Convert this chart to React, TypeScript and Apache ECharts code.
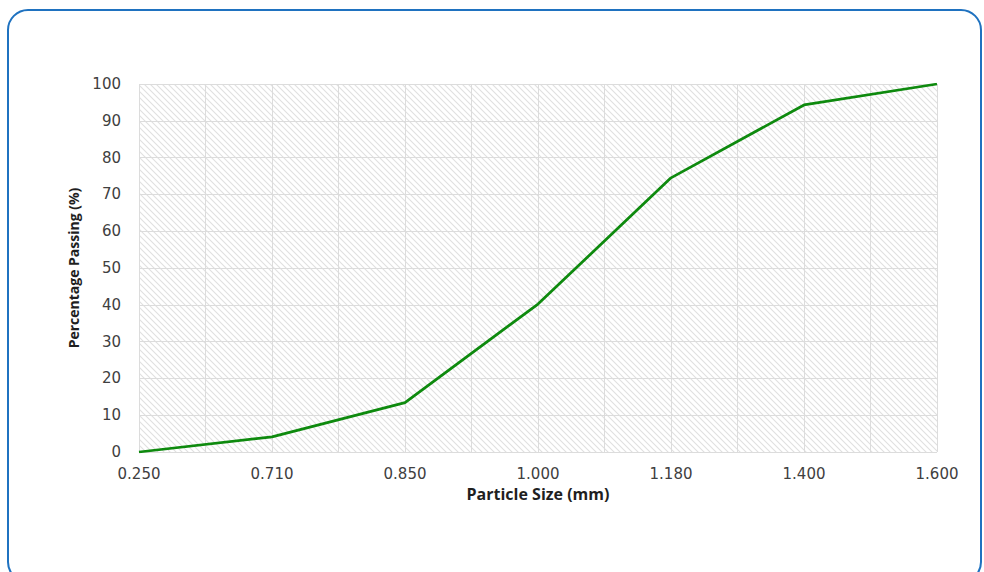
import React, { useEffect, useRef } from "react";
import * as echarts from "echarts";

const categories = ["0.250", "0.710", "0.850", "1.000", "1.180", "1.400", "1.600"];
const passing = [0, 4.1, 13.4, 40.2, 74.5, 94.3, 100];
const yTicks = { min: 0, max: 100, interval: 10 };

function makeHatch(): HTMLCanvasElement {
  const c = document.createElement("canvas");
  c.width = 6;
  c.height = 6;
  const ctx = c.getContext("2d")!;
  ctx.fillStyle = "#ffffff";
  ctx.fillRect(0, 0, 6, 6);
  ctx.strokeStyle = "#e0e0e0";
  ctx.lineWidth = 1.1;
  ctx.beginPath();
  ctx.moveTo(-1, -1);
  ctx.lineTo(7, 7);
  ctx.moveTo(-1, 5);
  ctx.lineTo(1, 7);
  ctx.moveTo(5, -1);
  ctx.lineTo(7, 1);
  ctx.stroke();
  return c;
}

export default function App() {
  const ref = useRef<HTMLDivElement>(null);
  useEffect(() => {
    document.body.style.margin = "0";
    const chart = echarts.init(ref.current!, undefined, { renderer: "svg" });
    const hatch = makeHatch();
    const font = "DejaVu Sans";
    const titleFont = "Open Sans";
    chart.setOption({
      animation: false,
      backgroundColor: "#ffffff",
      graphic: [
        {
          type: "rect",
          shape: { x: 8, y: 10, width: 973, height: 572, r: 20 },
          style: { fill: "none", stroke: "#1f72c0", lineWidth: 2 },
          z: 100,
        },
      ],
      grid: {
        left: 139,
        right: 47,
        top: 84,
        bottom: 120,
        show: true,
        borderWidth: 0,
        backgroundColor: { image: hatch, repeat: "repeat" },
      },
      xAxis: [
        {
          type: "category",
          data: categories,
          boundaryGap: false,
          axisLine: { show: false },
          axisTick: { show: false },
          splitLine: { show: false },
          axisLabel: { color: "#404040", fontFamily: font, fontSize: 15, margin: 14 },
          name: "Particle Size (mm)",
          nameLocation: "middle",
          nameGap: 32,
          nameTextStyle: { fontFamily: titleFont, fontWeight: "bold", fontSize: 16, color: "#1f1f1f" },
        },
        {
          type: "value",
          min: 0,
          max: (categories.length - 1) * 2,
          interval: 1,
          position: "bottom",
          axisLine: { show: false },
          axisTick: { show: false },
          axisLabel: { show: false },
          splitLine: { show: true, lineStyle: { color: "#dcdcdc", width: 1 } },
        },
      ],
      yAxis: {
        type: "value",
        min: yTicks.min,
        max: yTicks.max,
        interval: yTicks.interval,
        axisLine: { show: false },
        axisTick: { show: false },
        axisLabel: { color: "#404040", fontFamily: font, fontSize: 15, margin: 18 },
        splitLine: { show: true, lineStyle: { color: "#dcdcdc", width: 1 } },
        name: "Percentage Passing (%)",
        nameLocation: "middle",
        nameGap: 59,
        nameTextStyle: { fontFamily: titleFont, fontWeight: "bold", fontSize: 14, color: "#1f1f1f" },
      },
      series: [
        {
          type: "line",
          xAxisIndex: 0,
          data: passing,
          showSymbol: false,
          symbol: "none",
          lineStyle: { color: "#0e8a0e", width: 2.75 },
          z: 10,
        },
      ],
    });
    return () => chart.dispose();
  }, []);
  return <div ref={ref} style={{ width: 984, height: 572 }} />;
}
